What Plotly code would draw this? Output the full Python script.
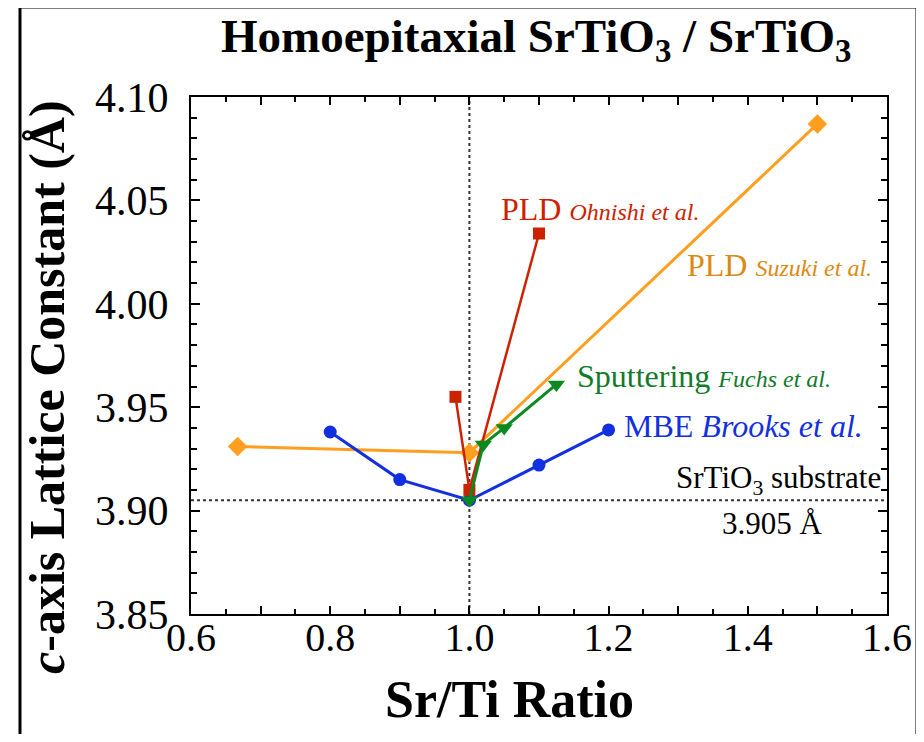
import plotly.graph_objects as go

# MBE Brooks et al.
mbe_x = [0.8, 0.9, 1.0, 1.1, 1.2]
mbe_y = [3.938, 3.915, 3.905, 3.922, 3.939]
# PLD Suzuki et al.
suz_x = [0.667, 1.0, 1.5]
suz_y = [3.931, 3.928, 4.087]
# PLD Ohnishi et al.
ohn_x = [0.98, 1.0, 1.1]
ohn_y = [3.955, 3.910, 4.034]
# Sputtering Fuchs et al.
fuc_x = [1.0, 1.02, 1.05, 1.125]
fuc_y = [3.905, 3.932, 3.940, 3.961]

substrate_c = 3.905
stoich = 1.0

x_ticks = [0.6, 0.7, 0.8, 0.9, 1.0, 1.1, 1.2, 1.3, 1.4, 1.5, 1.6]
x_ticktext = ["0.6", "", "0.8", "", "1.0", "", "1.2", "", "1.4", "", "1.6"]
y_ticks = [3.85, 3.90, 3.95, 4.00, 4.05, 4.10]
y_ticktext = ["3.85", "3.90", "3.95", "4.00", "4.05", "4.10"]

BLUE = "#1230e0"
RED = "#cc2200"
ORANGE = "#ff9e1f"
ORANGE_T = "#dc8a12"
GREEN = "#0b8a1f"
GREEN_T = "#127a2a"
FONT = "Liberation Serif, Times New Roman, serif"

fig = go.Figure()
fig.add_trace(go.Scatter(x=suz_x, y=suz_y, mode="lines+markers",
                         line=dict(color=ORANGE, width=3),
                         marker=dict(symbol="diamond", size=15, color=ORANGE)))
fig.add_trace(go.Scatter(x=mbe_x, y=mbe_y, mode="lines+markers",
                         line=dict(color=BLUE, width=3),
                         marker=dict(symbol="circle", size=13, color=BLUE)))
fig.add_trace(go.Scatter(x=ohn_x, y=ohn_y, mode="lines+markers",
                         line=dict(color=RED, width=2.5),
                         marker=dict(symbol="square", size=12, color=RED)))
fig.add_trace(go.Scatter(x=fuc_x, y=fuc_y, mode="lines+markers",
                         line=dict(color=GREEN, width=3),
                         marker=dict(symbol="triangle-down", size=15, color=GREEN)))

# reference lines
fig.add_shape(type="line", xref="paper", yref="y", x0=0, x1=1, y0=substrate_c, y1=substrate_c,
              line=dict(color="#333333", width=2, dash="dot"), layer="below")
fig.add_shape(type="line", xref="x", yref="paper", x0=stoich, x1=stoich, y0=0, y1=1,
              line=dict(color="#333333", width=2, dash="dot"), layer="below")

# outer frame
fig.add_shape(type="path", xref="paper", yref="paper",
              path="M -0.2457 -0.26 L -0.2457 1.174 L 1.0431 1.174 L 1.0431 -0.26",
              line=dict(color="black", width=3))

ann = []
ann.append(dict(text="<b>Homoepitaxial SrTiO<sub>3</sub> / SrTiO<sub>3</sub></b>",
                xref="paper", yref="paper", x=0.497, y=1.112, xanchor="center", yanchor="middle",
                showarrow=False, font=dict(family=FONT, size=47, color="black")))
ann.append(dict(text="<b><i>c</i>-axis Lattice Constant (Å)</b>",
                xref="paper", yref="paper", x=-0.207, y=0.439, xanchor="center", yanchor="middle",
                textangle=-90, showarrow=False, font=dict(family=FONT, size=50, color="black")))
ann.append(dict(text="<b>Sr/Ti Ratio</b>",
                xref="paper", yref="paper", x=0.458, y=-0.166, xanchor="center", yanchor="middle",
                showarrow=False, font=dict(family=FONT, size=52, color="black")))
ann.append(dict(text="PLD <i><span style='font-size:24px'>Ohnishi et al.</span></i>",
                x=1.0425, y=4.046, xanchor="left", yanchor="middle", showarrow=False,
                font=dict(family=FONT, size=32, color=RED)))
ann.append(dict(text="PLD <i><span style='font-size:24px'>Suzuki et al.</span></i>",
                x=1.31, y=4.019, xanchor="left", yanchor="middle", showarrow=False,
                font=dict(family=FONT, size=32, color=ORANGE_T)))
ann.append(dict(text="Sputtering <i><span style='font-size:24px'>Fuchs et al.</span></i>",
                x=1.152, y=3.965, xanchor="left", yanchor="middle", showarrow=False,
                font=dict(family=FONT, size=32, color=GREEN_T)))
ann.append(dict(text="MBE <i>Brooks et al.</i>",
                x=1.219, y=3.941, xanchor="left", yanchor="middle", showarrow=False,
                font=dict(family=FONT, size=32, color=BLUE)))
ann.append(dict(text="SrTiO<sub>3</sub> substrate",
                x=1.594, y=3.915, xanchor="right", yanchor="middle", showarrow=False,
                font=dict(family=FONT, size=31, color="black")))
ann.append(dict(text="3.905 Å",
                x=1.435, y=3.894, xanchor="center", yanchor="middle", showarrow=False,
                font=dict(family=FONT, size=31, color="black")))

axis_common = dict(showline=True, linecolor="black", linewidth=2, mirror="ticks",
                   ticks="inside", tickcolor="black", tickwidth=1.5, showgrid=False,
                   zeroline=False)

# The page body has an 8px margin, so the figure is drawn 8px in from the window corner.
fig.update_layout(
    width=916, height=726,
    margin=dict(l=183, r=37, t=89, b=120),
    plot_bgcolor="white", paper_bgcolor="white",
    showlegend=False,
    annotations=ann,
    xaxis=dict(range=[0.6, 1.6], tickmode="array", tickvals=x_ticks, ticktext=x_ticktext,
               ticklen=8, minor=dict(dtick=0.05, ticks="inside", ticklen=5, tickcolor="black"),
               ticklabelstandoff=-13, tickfont=dict(family=FONT, size=40, color="black"),
               **axis_common),
    yaxis=dict(range=[3.85, 4.10], tickmode="array", tickvals=y_ticks, ticktext=y_ticktext,
               ticklen=9, minor=dict(dtick=0.01, ticks="inside", ticklen=6, tickcolor="black"),
               ticklabelstandoff=12, tickfont=dict(family=FONT, size=42, color="black"),
               **axis_common),
)

fig.write_html("out.html")
